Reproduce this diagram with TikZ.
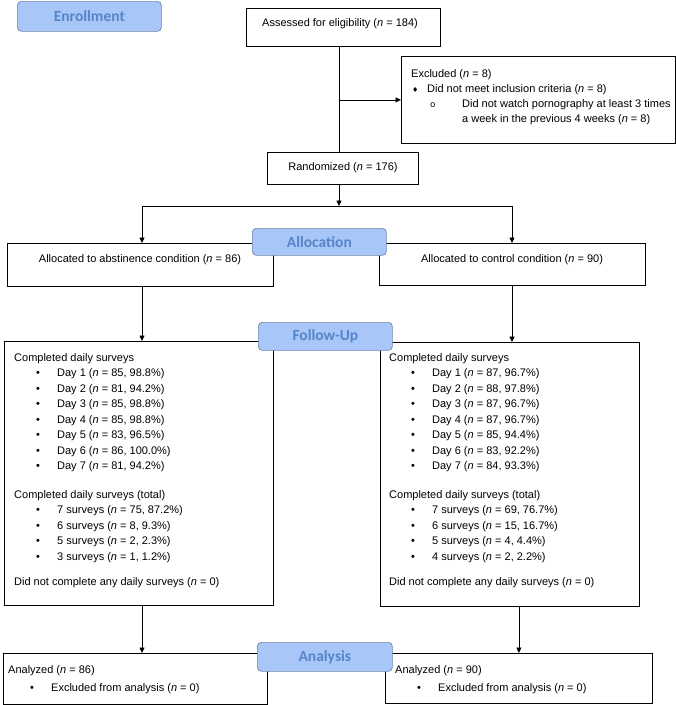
\documentclass[tikz,border=0pt]{standalone}
\usepackage{fontspec}
\setmainfont{Liberation Sans}
\newfontfamily\bannerfont{Carlito}
\newfontfamily\symfont{DejaVu Sans}
\newfontfamily\bulletmono{Liberation Mono}
\usetikzlibrary{arrows.meta}
\definecolor{bannerfill}{HTML}{A8C6F8}
\definecolor{bannerdraw}{HTML}{6F87A8}
\definecolor{bannertext}{HTML}{5585C8}
\newcommand\nn{\textit{n}}
\newcommand\itm[1]{\hspace*{22pt}\makebox[21pt][l]{\textbullet}#1}
\begin{document}
\begin{tikzpicture}[x=1pt,y=-1pt,
  box/.style={draw=black, line width=0.8pt, fill=white, inner sep=0pt, anchor=north west},
  banner/.style={draw=bannerdraw, fill=bannerfill, rounded corners=4pt, line width=0.7pt,
    anchor=north west, inner sep=0pt, text=bannertext,
    font=\bannerfont\bfseries\fontsize{15.5}{18}\selectfont},
  txt/.style={inner sep=0pt, font=\fontsize{11}{15.5}\selectfont},
  arr/.style={-{Triangle[length=5.5pt,width=5pt]}, line width=0.8pt},
  conn/.style={line width=0.8pt}]
\useasboundingbox (0,0) rectangle (676,705);
\fill[white] (0,0) rectangle (676,705);

% boxes
\node[box, minimum width=194pt, minimum height=38pt] (assess) at (246,8) {};
\node[box, minimum width=274pt, minimum height=87pt] (excl) at (401,56) {};
\node[box, minimum width=151pt, minimum height=32pt] (rand) at (267,152) {};
\node[box, minimum width=266pt, minimum height=43pt] (allocL) at (7,243) {};
\node[box, minimum width=266pt, minimum height=42pt] (allocR) at (379,243) {};
\node[box, minimum width=269pt, minimum height=264pt] (fuL) at (4,341) {};
\node[box, minimum width=259pt, minimum height=264pt] (fuR) at (380,342) {};
\node[box, minimum width=264pt, minimum height=51pt] (anL) at (3,653) {};
\node[box, minimum width=267pt, minimum height=50pt] (anR) at (385,653) {};

% texts
\node[txt] (assessT) at (340,24) {Assessed for eligibility (\nn{} = 184)};
\node[txt] (randT) at (343,168) {Randomized (\nn{} = 176)};
\node[txt] (allocLT) at (140,260) {Allocated to abstinence condition (\nn{} = 86)};
\node[txt] (allocRT) at (512,260) {Allocated to control condition (\nn{} = 90)};

\node[txt, anchor=base west] (exclT) at (411,77) {\parbox[t]{262pt}{\fontsize{11}{15}\selectfont
Excluded (\nn{} = 8)\\
\hspace*{1pt}\makebox[15pt][l]{{\symfont\fontsize{7}{7}\selectfont ♦}}Did not meet inclusion criteria (\nn{} = 8)\\
\hspace*{19pt}\makebox[32pt][l]{{\bulletmono\fontsize{9}{9}\selectfont o}}Did not watch pornography at least 3 times\\
\hspace*{51pt}a week in the previous 4 weeks (\nn{} = 8)}};

\node[txt, anchor=base west] (fuLT) at (14,361) {\parbox[t]{255pt}{\fontsize{11}{15.5}\selectfont
Completed daily surveys\\
\itm{Day 1 (\nn{} = 85, 98.8\%)}\\
\itm{Day 2 (\nn{} = 81, 94.2\%)}\\
\itm{Day 3 (\nn{} = 85, 98.8\%)}\\
\itm{Day 4 (\nn{} = 85, 98.8\%)}\\
\itm{Day 5 (\nn{} = 83, 96.5\%)}\\
\itm{Day 6 (\nn{} = 86, 100.0\%)}\\
\itm{Day 7 (\nn{} = 81, 94.2\%)}\\[13pt]
Completed daily surveys (total)\\
\itm{7 surveys (\nn{} = 75, 87.2\%)}\\
\itm{6 surveys (\nn{} = 8, 9.3\%)}\\
\itm{5 surveys (\nn{} = 2, 2.3\%)}\\
\itm{3 surveys (\nn{} = 1, 1.2\%)}\\[9.5pt]
Did not complete any daily surveys (\nn{} = 0)}};

\node[txt, anchor=base west] (fuRT) at (389,361) {\parbox[t]{245pt}{\fontsize{11}{15.5}\selectfont
Completed daily surveys\\
\itm{Day 1 (\nn{} = 87, 96.7\%)}\\
\itm{Day 2 (\nn{} = 88, 97.8\%)}\\
\itm{Day 3 (\nn{} = 87, 96.7\%)}\\
\itm{Day 4 (\nn{} = 87, 96.7\%)}\\
\itm{Day 5 (\nn{} = 85, 94.4\%)}\\
\itm{Day 6 (\nn{} = 83, 92.2\%)}\\
\itm{Day 7 (\nn{} = 84, 93.3\%)}\\[13pt]
Completed daily surveys (total)\\
\itm{7 surveys (\nn{} = 69, 76.7\%)}\\
\itm{6 surveys (\nn{} = 15, 16.7\%)}\\
\itm{5 surveys (\nn{} = 4, 4.4\%)}\\
\itm{4 surveys (\nn{} = 2, 2.2\%)}\\[9.5pt]
Did not complete any daily surveys (\nn{} = 0)}};

\node[txt, anchor=base west] (anLT) at (8,673) {\parbox[t]{250pt}{\fontsize{11}{18}\selectfont
Analyzed (\nn{} = 86)\\
\itm{Excluded from analysis (\nn{} = 0)}}};
\node[txt, anchor=base west] (anRT) at (395,673) {\parbox[t]{250pt}{\fontsize{11}{18}\selectfont
Analyzed (\nn{} = 90)\\
\itm{Excluded from analysis (\nn{} = 0)}}};

% connectors
\coordinate (spine) at (339,0);
\coordinate (colL) at (142,0);
\coordinate (colR) at (512,0);
\coordinate (split) at (339,206);
\draw[conn] (assess.south -| spine) -- (rand.north -| spine);
\draw[arr] (spine |- excl.west) -- (excl.west);
\draw[arr] (rand.south -| spine) -- (split);
\draw[arr] (split) -| (allocL.north -| colL);
\draw[arr] (split) -| (allocR.north -| colR);
\draw[arr] (allocL.south -| colL) -- (fuL.north -| colL);
\draw[arr] (allocR.south -| colR) -- (fuR.north -| colR);
\draw[arr] (fuL.south -| colL) -- (anL.north -| colL);
\draw[arr] (fuR.south -| anR.north) -- (anR.north);

% banners
\node[banner, minimum width=144pt, minimum height=30pt] (enroll) at (17,1) {Enrollment};
\node[banner, minimum width=134pt, minimum height=27pt] (alloc) at (252,228) {Allocation};
\node[banner, minimum width=134pt, minimum height=28pt] (follow) at (258,322) {Follow-Up};
\node[banner, minimum width=135pt, minimum height=29pt] (analysis) at (257,642) {Analysis};
\end{tikzpicture}
\end{document}
